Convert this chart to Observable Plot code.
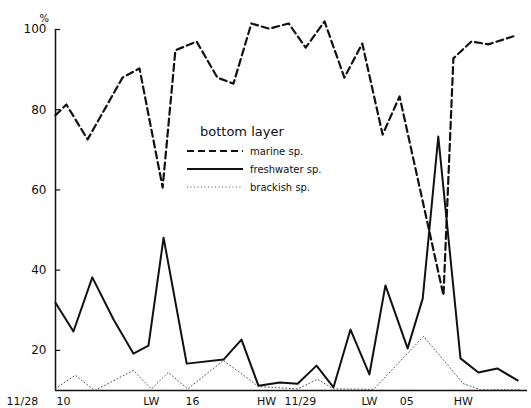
<!DOCTYPE html>
<html><head><meta charset="utf-8">
<script src="https://cdn.jsdelivr.net/npm/d3@7"></script>
<script src="https://cdn.jsdelivr.net/npm/@observablehq/plot@0.6"></script>
<style>
html,body{margin:0;padding:0;background:#fff;}
#wrap{position:relative;width:531px;height:408px;font-family:"DejaVu Sans",sans-serif;color:#111;}
#legend{position:absolute;left:187px;top:122px;font-size:10px;}
#legend .title{font-size:13px;margin-left:13px;height:20px;line-height:20px;}
#legend .row{display:flex;align-items:center;height:18px;}
#legend svg{margin-right:7px;}
</style></head><body><div id="wrap"><div id="legend"></div></div>
<script>
// sample positions (0–100 along the time axis) and percentages
const marineX = [0, 2.3, 6.8, 14.2, 17.8, 22.7, 25.4, 29.9, 34.3, 37.7, 41.5, 45.3, 49.4, 53.0, 57.0, 61.2, 65.0, 69.3, 72.9, 82.2, 84.3, 88.1, 91.7, 97.0];
const marineY = [78.6, 81.3, 72.6, 88.0, 90.3, 60.6, 94.8, 97.0, 88.0, 86.5, 101.5, 100.2, 101.5, 95.5, 102.0, 88.0, 96.5, 73.8, 83.3, 33.7, 92.8, 97.0, 96.3, 98.3];

const freshX = [0, 3.8, 7.8, 12.3, 16.5, 19.7, 22.9, 27.8, 35.6, 39.4, 43.0, 47.5, 51.3, 55.3, 58.9, 62.5, 66.5, 69.9, 74.6, 77.8, 81.1, 85.8, 89.6, 93.6, 97.9];
const freshY = [31.9, 24.7, 38.2, 27.7, 19.2, 21.2, 48.1, 16.7, 17.7, 22.7, 11.2, 12.0, 11.7, 16.2, 10.8, 25.2, 14.0, 36.2, 20.5, 32.9, 73.3, 18.0, 14.5, 15.5, 12.5];

const brackX = [0, 4.2, 8.3, 16.5, 20.3, 23.9, 28.0, 35.6, 43.0, 51.3, 55.5, 58.9, 67.4, 78.0, 86.4, 90.0, 98.5];
const brackY = [10.5, 13.8, 10.0, 15.0, 10.4, 14.5, 10.4, 17.5, 11.0, 10.4, 12.8, 10.4, 10.3, 23.5, 11.7, 10.2, 10.2];

const yTicks = [20, 40, 60, 80, 100];
const xTickPos = [-7, 1.7, 20.3, 29.0, 44.7, 51.9, 66.5, 74.4, 86.4];
const xTickLabels = ["11/28", "10", "LW", "16", "HW", "11/29", "LW", "05", "HW"];

const seriesNames = ["marine sp.", "freshwater sp.", "brackish sp."];
const seriesDash = ["7,4", null, "1,2.5"];
const seriesWidth = [2.2, 2, 1];
const seriesColor = ["#111", "#111", "#555"];

const toRows = (xs, ys) => xs.map((x, i) => ({x, y: ys[i]}));
const marine = toRows(marineX, marineY);
const fresh = toRows(freshX, freshY);
const brack = toRows(brackX, brackY);
const xTicks = xTickPos.map((p, i) => ({p, label: xTickLabels[i]}));

const chart = Plot.plot({
  width: 531, height: 408,
  marginLeft: 55, marginRight: 4, marginTop: 29, marginBottom: 18,
  x: {domain: [0, 100], axis: null},
  y: {domain: [10, 100], axis: null},
  style: {fontFamily: "DejaVu Sans, sans-serif", fontSize: "11px", color: "#111", background: "#fff"},
  marks: [
    Plot.ruleX([0], {y1: 10, y2: 100, stroke: "#111", strokeWidth: 1.5}),
    Plot.ruleY([10], {x1: 0, x2: 100, stroke: "#111", strokeWidth: 1.5}),
    Plot.ruleY(yTicks, {x1: 0, x2: 1.1, stroke: "#111", strokeWidth: 1.2}),
    Plot.axisY({ticks: yTicks, tickSize: 0, tickPadding: 9, fontSize: 12, label: null}),
    Plot.text(["%"], {frameAnchor: "top-left", dx: -16, dy: -15, fontSize: 10}),
    Plot.text(xTicks, {x: "p", y: 10, text: "label", dy: 11, fontSize: 11}),
    Plot.line(brack, {x: "x", y: "y", stroke: seriesColor[2], strokeWidth: seriesWidth[2], strokeDasharray: seriesDash[2]}),
    Plot.line(fresh, {x: "x", y: "y", stroke: seriesColor[1], strokeWidth: seriesWidth[1]}),
    Plot.line(marine, {x: "x", y: "y", stroke: seriesColor[0], strokeWidth: seriesWidth[0], strokeDasharray: seriesDash[0]})
  ]
});
document.getElementById("wrap").prepend(chart);

const legend = document.getElementById("legend");
legend.innerHTML = `<div class="title">bottom layer</div>` + seriesNames.map((n, i) =>
  `<div class="row"><svg width="56" height="6"><line x1="0" y1="3" x2="56" y2="3" stroke="${seriesColor[i]}" stroke-width="${seriesWidth[i]}" ${seriesDash[i] ? `stroke-dasharray="${seriesDash[i]}"` : ""}/></svg><span>${n}</span></div>`
).join("");
</script>
</body></html>
